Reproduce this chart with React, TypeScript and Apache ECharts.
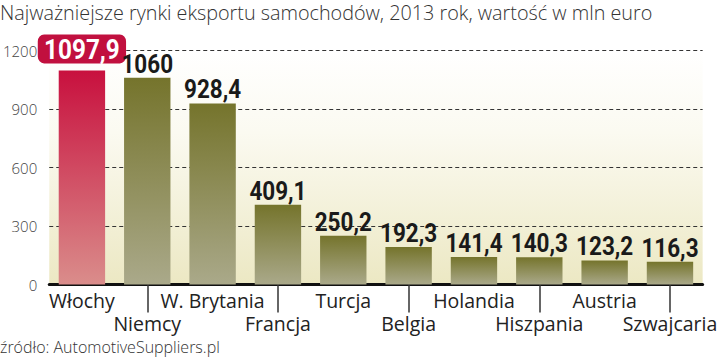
import React, { useEffect, useRef } from "react";
import * as echarts from "echarts";

const TITLE = "Najważniejsze rynki eksportu samochodów, 2013 rok, wartość w mln euro";
const SOURCE = "źródło: AutomotiveSuppliers.pl";
const categories = ["Włochy", "Niemcy", "W. Brytania", "Francja", "Turcja", "Belgia", "Holandia", "Hiszpania", "Austria", "Szwajcaria"];
const values = [1097.9, 1060, 928.4, 409.1, 250.2, 192.3, 141.4, 140.3, 123.2, 116.3];
const yTicks = { min: 0, max: 1200, interval: 300 };

const SANS = "'Open Sans', 'DejaVu Sans', sans-serif";
const BOLD = "Roboto, 'Open Sans', sans-serif";

const fmt = (v: number) => String(v).replace(".", ",");

export default function App() {
  const ref = useRef<HTMLDivElement>(null);
  useEffect(() => {
    if (!ref.current) return;
    const chart = echarts.init(ref.current, null, { renderer: "svg" });
    const olive = new echarts.graphic.LinearGradient(0, 0, 0, 1, [
      { offset: 0, color: "#75742c" },
      { offset: 1, color: "#aaa98a" },
    ]);
    const red = new echarts.graphic.LinearGradient(0, 0, 0, 1, [
      { offset: 0, color: "#c8103e" },
      { offset: 1, color: "#da8d8b" },
    ]);
    const barData = values.map((v, i) => ({ value: v, itemStyle: { color: i === 0 ? red : olive } }));
    const labelData = values.map((v, i) => [i, v]);
    chart.setOption({
      animation: false,
      backgroundColor: "#ffffff",
      graphic: [
        {
          type: "text",
          left: 0,
          top: 2,
          style: { text: TITLE, fontFamily: SANS, fontWeight: 300, fontSize: 19.8, fill: "#333333" },
        },
        {
          type: "text",
          left: 0,
          top: 339,
          style: { text: SOURCE, fontFamily: SANS, fontWeight: 300, fontSize: 16, fill: "#333333" },
        },
      ],
      grid: {
        left: 48,
        right: 13,
        top: 50.5,
        bottom: 72.5,
        show: true,
        borderWidth: 0,
        backgroundColor: new echarts.graphic.LinearGradient(0, 0, 0, 1, [
          { offset: 0, color: "#ffffff" },
          { offset: 0.35, color: "#fbfaf1" },
          { offset: 1, color: "#ece8c3" },
        ]),
      },
      xAxis: {
        type: "category",
        data: categories,
        axisLine: { lineStyle: { color: "#111111", width: 3 } },
        axisTick: {
          show: true,
          alignWithLabel: true,
          interval: (i: number) => i % 2 === 1,
          length: 28,
          lineStyle: { color: "#333333", width: 1.5 },
        },
        axisLabel: {
          interval: 0,
          margin: 4,
          fontFamily: SANS,
          fontSize: 19.5,
          lineHeight: 23,
          color: "#222222",
          formatter: (v: string, i: number) => (i % 2 === 1 ? "\n" + v : v),
        },
      },
      yAxis: {
        type: "value",
        min: yTicks.min,
        max: yTicks.max,
        interval: yTicks.interval,
        axisLine: { show: false },
        axisTick: { show: false },
        axisLabel: {
          margin: 12,
          fontFamily: SANS,
          fontWeight: 300,
          fontSize: 15,
          color: "#444444",
          formatter: (v: number) => String(v),
        },
        splitLine: { lineStyle: { color: "#333333", width: 1, type: [4, 3] } },
      },
      series: [
        {
          type: "bar",
          data: barData,
          barCategoryGap: "29%",
          z: 2,
        },
        {
          type: "custom",
          coordinateSystem: "cartesian2d",
          data: labelData,
          z: 5,
          renderItem: (params: any, api: any) => {
            const idx = api.value(0);
            const v = api.value(1);
            const pt = api.coord([idx, v]);
            const first = params.dataIndex === 0;
            return {
              type: "text",
              x: pt[0],
              y: pt[1] - (first ? 7 : 1),
              scaleX: 0.9,
              style: first
                ? {
                    text: fmt(v),
                    align: "center",
                    verticalAlign: "bottom",
                    fontFamily: BOLD,
                    fontWeight: "bold",
                    fontSize: 27,
                    fill: "#ffffff",
                    backgroundColor: "#c1103f",
                    borderRadius: 7,
                    padding: [2, 7, 0, 7],
                  }
                : {
                    text: fmt(v),
                    align: "center",
                    verticalAlign: "bottom",
                    fontFamily: BOLD,
                    fontWeight: "bold",
                    fontSize: 25,
                    fill: "#1a1a1a",
                  },
            };
          },
        },
      ],
    });
    return () => chart.dispose();
  }, []);
  return (
    <div
      ref={ref}
      style={{ position: "fixed", left: 0, top: 0, width: 720, height: 357 }}
    />
  );
}
